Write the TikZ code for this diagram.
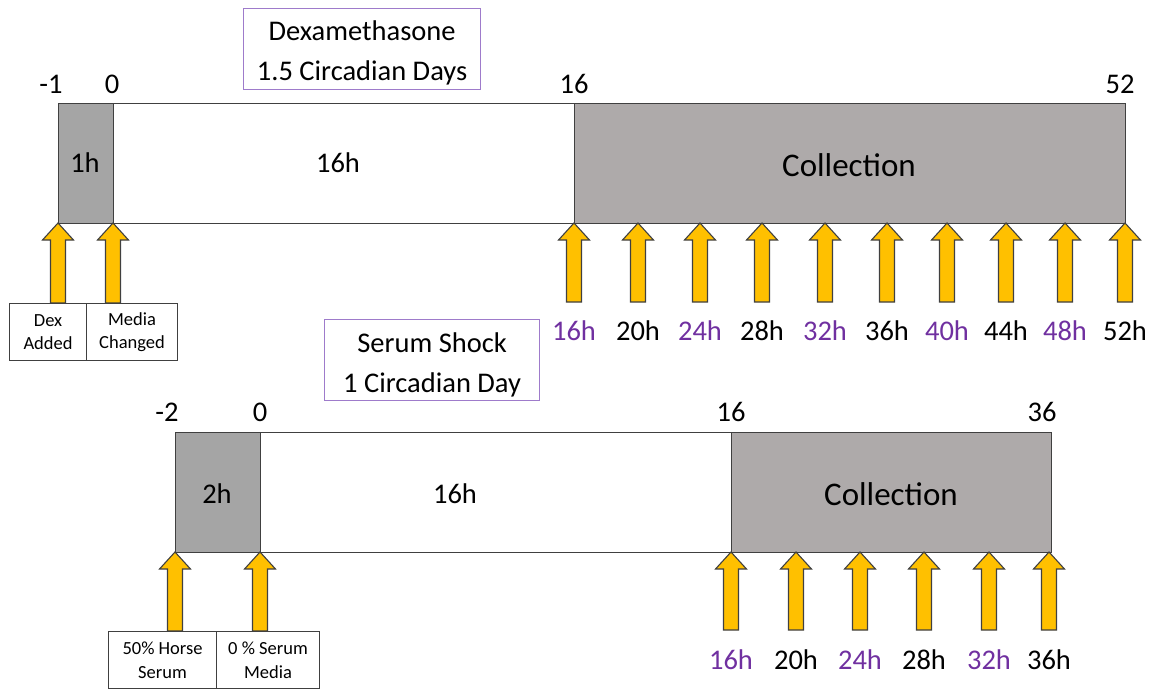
\documentclass[tikz,border=0pt]{standalone}
\usepackage{fontspec}
\setmainfont{Carlito}
\definecolor{boxgray}{HTML}{A5A5A5}
\definecolor{colgray}{HTML}{AEAAAA}
\definecolor{edgegray}{HTML}{404040}
\definecolor{purp}{HTML}{7030A0}
\definecolor{titleedge}{HTML}{9E7BCB}
\definecolor{arrowfill}{HTML}{FFC000}
\tikzset{
  seg/.style={draw=edgegray, line width=1.3pt, inner sep=0pt, anchor=north west},
  tick/.style={inner sep=0pt, font=\fontsize{28.5}{34}\selectfont},
  hlabel/.style={inner sep=0pt, font=\fontsize{28.5}{34}\selectfont},
  titlebox/.style={draw=titleedge, line width=1.2pt, inner sep=0pt, anchor=north west},
  titletext/.style={inner sep=0pt, align=center, font=\fontsize{28.5}{40}\selectfont},
  evbox/.style={draw=edgegray, line width=1.1pt, inner sep=0pt, align=center, anchor=north west, font=\fontsize{18.5}{23.5}\selectfont},
  blockarrow/.style={draw=edgegray, fill=arrowfill, line width=1.1pt, line join=miter},
}
\newcommand{\blockarr}[3]{%
  \path[blockarrow] (#1,#2) -- ++(15.5,17) -- ++(-8,0) -- (#1+7.5,#3) -- (#1-7.5,#3) -- (#1-7.5,#2+17) -- ++(-8,0) -- cycle;}
\begin{document}
\begin{tikzpicture}[x=1pt,y=-1pt]
\useasboundingbox (0,0) rectangle (1164,689);
% ---------- top timeline ----------
\node[titlebox, minimum width=237pt, minimum height=81pt] (t1) at (243,8) {};
\node[titletext] (t1l) at ([yshift=-4pt]t1.center) {Dexamethasone\\1.5 Circadian Days};
\node[seg, fill=boxgray, minimum width=55pt, minimum height=120pt] (a1) at (58,103) {};
\node[seg, fill=white, minimum width=461pt, minimum height=120pt] (a2) at (113,103) {};
\node[seg, fill=colgray, minimum width=551pt, minimum height=120pt] (a3) at (574,103) {};
\node[hlabel] (a1l) at (85,163) {1h};
\node[hlabel] (a2l) at (338,163) {16h};
\node[inner sep=0pt, font=\fontsize{33}{38}\selectfont] (a3l) at (849,165) {Collection};
\node[tick] (k1) at (51,84) {-1};
\node[tick] (k2) at (112,84) {0};
\node[tick] (k3) at (574,84) {16};
\node[tick] (k4) at (1120,84) {52};
\blockarr{58}{223}{303}
\blockarr{113}{223}{303}
\node[evbox, minimum width=77pt, minimum height=57pt] (e1) at (9,303) {Dex\\Added};
\node[evbox, minimum width=91pt, minimum height=57pt] (e2) at (86,303) {Media\\Changed};
\foreach \x/\t/\c in {574/16h/purp, 638/20h/black, 700/24h/purp, 762/28h/black, 825/32h/purp, 887/36h/black, 947/40h/purp, 1006/44h/black, 1065/48h/purp, 1125/52h/black}{
  \blockarr{\x}{223}{302}
  \node[hlabel, text=\c] at (\x,331) {\t};
}
% ---------- bottom timeline ----------
\node[titlebox, minimum width=215pt, minimum height=81pt] (t2) at (324,319) {};
\node[titletext] (t2l) at ([yshift=-5pt]t2.center) {Serum Shock\\1 Circadian Day};
\node[seg, fill=boxgray, minimum width=85pt, minimum height=120pt] (b1) at (175,432) {};
\node[seg, fill=white, minimum width=471pt, minimum height=120pt] (b2) at (260,432) {};
\node[seg, fill=colgray, minimum width=320pt, minimum height=120pt] (b3) at (731,432) {};
\node[hlabel] (b1l) at (217,494) {2h};
\node[hlabel] (b2l) at (455,494) {16h};
\node[inner sep=0pt, font=\fontsize{33}{38}\selectfont] (b3l) at (891,494) {Collection};
\node[tick] (m1) at (167,412) {-2};
\node[tick] (m2) at (260,412) {0};
\node[tick] (m3) at (731,412) {16};
\node[tick] (m4) at (1042,412) {36};
\blockarr{175}{552}{631}
\blockarr{260}{552}{631}
\node[evbox, minimum width=108pt, minimum height=57pt] (f1) at (108,631) {50\% Horse\\Serum};
\node[evbox, minimum width=103pt, minimum height=57pt] (f2) at (216,631) {0 \% Serum\\Media};
\foreach \x/\t/\c in {731/16h/purp, 796/20h/black, 860/24h/purp, 924/28h/black, 989/32h/purp, 1049/36h/black}{
  \blockarr{\x}{552}{630}
  \node[hlabel, text=\c] at (\x,660) {\t};
}
\end{tikzpicture}
\end{document}
